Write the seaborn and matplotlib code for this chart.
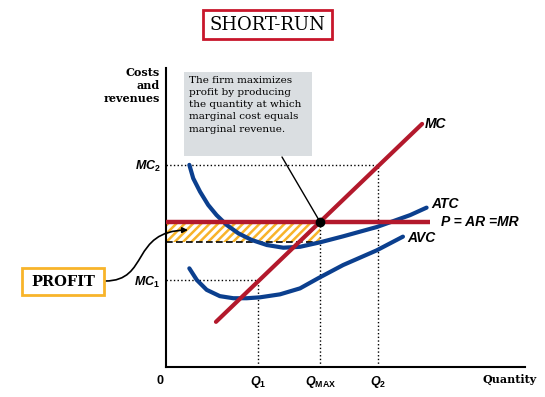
import numpy as np
import pandas as pd
import seaborn as sns
import matplotlib.pyplot as plt
from matplotlib.patches import Rectangle, FancyArrowPatch
from matplotlib.path import Path

# curves (quantity, cost)
q_mc = [1.67, 8.56]
mc = [1.51, 8.13]

q_atc = [0.78, 0.91, 1.14, 1.41, 1.69, 2.03, 2.42, 2.86, 3.37, 3.92, 4.48, 5.15,
         5.92, 7.04, 8.16, 8.71]
atc = [6.76, 6.31, 5.86, 5.42, 5.08, 4.75, 4.47, 4.25, 4.08, 3.99, 4.02, 4.17,
       4.37, 4.68, 5.08, 5.33]

q_avc = [0.78, 1.03, 1.36, 1.80, 2.25, 2.70, 3.14, 3.81, 4.48, 5.09, 5.92, 7.04, 7.92]
avc = [3.30, 2.91, 2.58, 2.37, 2.30, 2.30, 2.33, 2.43, 2.63, 2.97, 3.41, 3.90, 4.36]

price = 4.85
p_line_end = 8.82
q1, q_max, q2 = 3.07, 5.15, 7.09
mc1, mc2 = 2.91, 6.76
atc_at_qmax = 4.18

x_tick_labels = [r'$Q_1$', r'$Q_{\mathrm{MAX}}$', r'$Q_2$']
y_tick_labels = [r'$MC_1$', r'$MC_2$']

RED = '#B3192C'
BLUE = '#0B3F8E'
ORANGE = '#F8B42A'

sns.set_style('white')
plt.rcParams['text.color'] = 'black'
plt.rcParams['xtick.color'] = 'black'
plt.rcParams['ytick.color'] = 'black'
plt.rcParams['mathtext.fontset'] = 'custom'
plt.rcParams['mathtext.it'] = 'Liberation Sans:italic:bold'
plt.rcParams['mathtext.rm'] = 'Liberation Sans:bold'
plt.rcParams['mathtext.bf'] = 'Liberation Sans:bold'
plt.rcParams['hatch.linewidth'] = 1.8

W, H = 545, 397


def fx(px):
    return px / W


def fy(py):
    return 1 - py / H


fig = plt.figure(figsize=(5.45, 3.97), dpi=100)
ax = fig.add_axes([fx(166), fy(367), 359 / W, 299 / H])
ax.set_xlim(0, 12)
ax.set_ylim(0, 10)
ax.patch.set_alpha(0)

# profit area
ax.fill_between([0, q_max], atc_at_qmax, price, facecolor='white',
                edgecolor=ORANGE, hatch='////', linewidth=0, zorder=1)
ax.plot([0, q_max], [atc_at_qmax, atc_at_qmax], color='black', ls=(0, (4, 2)), lw=1.2, zorder=2)

# dotted guides
dot = dict(color='black', ls=':', lw=1, zorder=2)
ax.plot([0, q2], [mc2, mc2], **dot)
ax.plot([q2, q2], [0, mc2], **dot)
ax.plot([0, q1], [mc1, mc1], **dot)
ax.plot([q1, q1], [0, mc1], **dot)
ax.plot([q_max, q_max], [0, price], **dot)

curves = pd.DataFrame({'q': q_atc, 'cost': atc})
sns.lineplot(data=curves, x='q', y='cost', ax=ax, color=BLUE, lw=3, zorder=3,
             solid_joinstyle='round')
sns.lineplot(x=q_avc, y=avc, ax=ax, color=BLUE, lw=3, zorder=3, solid_joinstyle='round')
sns.lineplot(x=q_mc, y=mc, ax=ax, color=RED, lw=3, zorder=4)
ax.plot([0, p_line_end], [price, price], color=RED, lw=3.2, zorder=4, solid_capstyle='butt')
ax.plot([q_max], [price], 'o', color='black', ms=6, zorder=6)

lab = dict(fontfamily='Liberation Sans', fontweight='bold', fontstyle='italic', fontsize=10)
ax.text(8.65, 8.13, 'MC', va='center', ha='left', **lab)
ax.text(8.86, 5.45, 'ATC', va='center', ha='left', **lab)
ax.text(9.2, price, 'P = AR =MR', va='center', ha='left', **lab)
ax.text(8.05, 4.3, 'AVC', va='center', ha='left', **lab)

ax.set_xticks([q1, q_max, q2], x_tick_labels)
ax.set_yticks([mc1, mc2], y_tick_labels)
ax.tick_params(length=0, labelsize=9)
ax.tick_params(axis='x', pad=5)
ax.tick_params(axis='y', pad=4)
ax.set_xlabel('')
ax.set_ylabel('')
for s in ['top', 'right']:
    ax.spines[s].set_visible(False)
for s in ['left', 'bottom']:
    ax.spines[s].set_linewidth(1.5)
    ax.spines[s].set_color('black')

# outside texts
fig.text(fx(160), fy(381), '0', ha='center', va='center', fontsize=9,
         fontfamily='Liberation Sans', fontweight='bold')
fig.text(fx(537), fy(379), 'Quantity', ha='right', va='center', fontsize=8,
         fontfamily='DejaVu Serif', fontweight='bold')
fig.text(fx(160), fy(67), 'Costs\nand\nrevenues', ha='right', va='top', fontsize=8,
         fontfamily='DejaVu Serif', fontweight='bold', linespacing=1.25)

fig.text(fx(267.5), fy(24.5), 'SHORT-RUN', ha='center', va='center', fontsize=13,
         fontfamily='DejaVu Serif')
fig.patches.append(Rectangle((fx(203), fy(39)), 129 / W, 29 / H, transform=fig.transFigure,
                             facecolor='none', edgecolor='#C8162B', lw=2))

fig.patches.append(Rectangle((fx(184), fy(156)), 128 / W, 84 / H, transform=fig.transFigure,
                             facecolor='#DADEE1', edgecolor='none', zorder=5))
fig.text(fx(189), fy(76), 'The firm maximizes\nprofit by producing\nthe quantity at which\n'
         'marginal cost equals\nmarginal revenue.', ha='left', va='top', fontsize=7.5,
         fontfamily='DejaVu Serif', linespacing=1.45, zorder=6)
ax.annotate('', xy=(q_max, price), xytext=(fx(282), fy(157)), textcoords='figure fraction',
            arrowprops=dict(arrowstyle='-', lw=1, color='black', shrinkA=0, shrinkB=0), zorder=5)

fig.patches.append(Rectangle((fx(22), fy(295)), 82 / W, 27 / H, transform=fig.transFigure,
                             facecolor='white', edgecolor=ORANGE, lw=2))
fig.text(fx(63), fy(281.5), 'PROFIT', ha='center', va='center', fontsize=10.5,
         fontfamily='DejaVu Serif', fontweight='bold')
verts = [(fx(105), fy(281)), (fx(150), fy(281)), (fx(130), fy(231)), (fx(188), fy(230))]
arrow = FancyArrowPatch(path=Path(verts, [Path.MOVETO, Path.CURVE4, Path.CURVE4, Path.CURVE4]),
                        arrowstyle='-|>', mutation_scale=8, lw=1.2, color='black',
                        transform=fig.transFigure)
fig.add_artist(arrow)

fig.savefig('out.png', dpi=100)
